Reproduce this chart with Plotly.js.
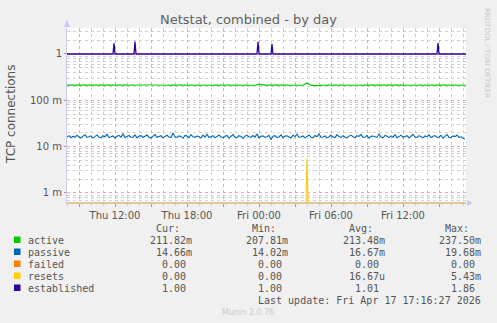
<!DOCTYPE html>
<html><head><meta charset="utf-8">
<script src="https://cdn.plot.ly/plotly-3.0.1.min.js"></script>
<style>html,body{margin:0;padding:0;background:#f0f0f0;}#chart{width:497px;height:323px;}</style>
</head><body><div id="chart"></div>
<script>
// ---- data (values in milli-units unless noted) ----
const startTime = '2026-04-16 08:00';
const activeSampleMinutes = 20;
const passiveSampleMinutes = 10;
const activeMilli = [212.4,213.1,211.8,214.0,212.7,213.5,211.2,212.9,214.3,213.0,212.1,213.8,212.5,211.6,213.9,214.6,212.3,213.2,211.9,212.8,213.6,214.1,212.0,213.4,212.6,211.4,213.7,212.9,214.2,213.1,212.4,213.8,211.7,212.5,214.0,213.3,212.2,213.6,212.8,211.9,213.5,214.4,212.6,213.0,211.8,212.7,213.9,212.3,220.4,213.2,212.5,213.7,211.6,212.9,214.1,213.3,212.0,213.5,212.7,211.3,237.5,212.8,207.81,213.4,212.2,213.9,212.6,211.8,213.1,214.3,212.4,213.6,212.9,211.5,213.2,214.0,212.7,213.3,211.9,212.6,213.8,212.1,213.5,214.2,212.8,211.7,213.0,212.4,213.9,212.3,213.6,211.8,212.9,214.1,213.2,212.5,213.7,211.9,212.8,213.4,211.82];
const passiveMilli = [
16.1,17.3,15.6,16.8,15.9,17.7,16.2,15.4,16.9,18.2,15.8,16.5,17.1,15.3,16.7,17.9,16.0,15.5,17.2,16.4,
18.6,15.7,16.3,17.0,15.2,16.8,17.5,16.1,19.1,15.6,16.6,17.4,15.9,16.2,18.0,15.4,16.9,17.3,15.8,16.5,
17.8,16.0,15.3,16.7,18.4,15.9,16.3,17.2,15.5,16.8,17.6,16.2,15.7,19.68,16.4,15.8,17.1,16.6,15.2,17.4,
16.9,15.6,18.1,16.3,15.9,17.0,16.5,15.4,17.7,16.1,18.5,15.8,16.6,17.3,15.5,16.9,17.9,16.2,15.6,16.8,
17.5,15.3,16.4,18.3,16.0,15.7,17.2,16.6,15.1,16.9,17.8,16.3,15.8,17.4,16.1,18.8,15.5,16.7,17.1,15.9,
16.4,17.6,14.02,16.8,17.3,15.7,16.2,18.0,15.6,16.9,17.2,16.1,15.4,17.7,16.5,18.6,15.8,16.3,17.0,15.5,
16.7,17.9,16.0,15.6,17.4,16.4,19.0,15.9,16.2,17.1,15.3,16.8,17.6,16.1,15.7,18.2,16.5,15.8,17.3,16.0,
15.4,16.9,17.8,16.3,15.6,17.2,16.6,18.4,15.9,16.1,17.5,15.2,16.7,17.0,16.4,15.8,18.7,16.2,15.5,17.4,
16.8,15.7,17.1,16.0,18.1,15.6,16.5,17.7,15.9,16.3,17.2,15.4,16.9,18.5,16.1,15.8,17.3,16.6,15.5,17.0,
16.4,18.0,15.7,16.8,17.4,15.9,16.2,17.6,15.3,16.7,18.3,16.0,15.6,17.1,16.5,17.8,15.8,16.3,15.1,14.66];
const failedTimes = ['2026-04-16 08:00','2026-04-17 17:20'];
const failedValues = [0,0];
const resetsTimes = ['2026-04-16 08:00','2026-04-17 03:55','2026-04-17 04:00','2026-04-17 04:05','2026-04-17 17:20'];
const resetsMilli = [0,0,5.43,0,0];
const estTimes = ['2026-04-16 08:00',
  '2026-04-16 11:50','2026-04-16 11:55','2026-04-16 12:00',
  '2026-04-16 13:35','2026-04-16 13:40','2026-04-16 13:45',
  '2026-04-16 23:50','2026-04-16 23:55','2026-04-17 00:00',
  '2026-04-17 01:00','2026-04-17 01:05','2026-04-17 01:10',
  '2026-04-17 14:50','2026-04-17 14:55','2026-04-17 15:00',
  '2026-04-17 17:20'];
const estValues = [1, 1,1.69,1, 1,1.86,1, 1,1.84,1, 1,1.64,1, 1,1.72,1, 1];

const seriesNames = ['active','passive','failed','resets','established'];
const seriesColors = ['#00CC00','#0066B3','#FF8000','#FFCC00','#330099'];
const curText = ['211.82m','14.66m','0.00','0.00','1.00'];
const minText = ['207.81m','14.02m','0.00','0.00','1.00'];
const avgText = ['213.48m','16.67m','0.00','16.67u','1.01'];
const maxText = ['237.50m','19.68m','0.00','5.43m','1.86'];
const xTickLabels = ['Thu 12:00','Thu 18:00','Fri 00:00','Fri 06:00','Fri 12:00'];
const yTickVals = [0.001,0.01,0.1,1];
const yTickLabels = ['1 m','10 m','100 m','1'];
const xRange = ['2026-04-16 08:00','2026-04-17 17:15'];
const lastUpdate = 'Last update: Fri Apr 17 17:16:27 2026';

// ---- helpers ----
const MILLI = 1e-3;
const yLogRange = [-3.216, 0.561];
const floorVal = Math.pow(10, yLogRange[0]);
function toStr(ms){ return new Date(ms).toISOString().slice(0,16).replace('T',' '); }
function parseT(s){ return Date.parse(s.replace(' ','T')+':00Z'); }
const t0 = parseT(startTime);
function sampleTimes(n, step){ const a=[]; for(let i=0;i<n;i++) a.push(toStr(t0+i*step*60000)); return a; }
const clamp = v => Math.max(v, floorVal);

const L=67,R=466,T=28,B=203;
const px = x => (x-L)/(R-L);
const py = y => (B-y)/(B-T);

const traces = [
  {x: sampleTimes(activeMilli.length, activeSampleMinutes), y: activeMilli.map(v=>clamp(v*MILLI)), color: seriesColors[0]},
  {x: sampleTimes(passiveMilli.length, passiveSampleMinutes), y: passiveMilli.map(v=>clamp(v*MILLI)), color: seriesColors[1]},
  {x: failedTimes, y: failedValues.map(clamp), color: seriesColors[2]},
  {x: resetsTimes, y: resetsMilli.map(v=>clamp(v*MILLI)), color: seriesColors[3]},
  {x: estTimes, y: estValues.map(clamp), color: seriesColors[4]},
].map((d,i)=>({type:'scatter', mode:'lines', x:d.x, y:d.y, name:seriesNames[i],
  line:{color:d.color, width: i===4?1.3:1.1}, hoverinfo:'skip'}));

// x ticks every 3h, labels every 6h
const dayStart = parseT('2026-04-16 00:00');
const xTickVals=[], xTickText=[];
let li=0;
for(let h=9; h<=39; h+=3){
  xTickVals.push(toStr(dayStart+h*3600000));
  if(h%6===0){ xTickText.push(xTickLabels[li++]); } else xTickText.push('');
}
const yMinorVals=[];
for(let k=-4;k<=0;k++) for(let m=2;m<=9;m++) yMinorVals.push(m*Math.pow(10,k));

const gridRed = '#e8a8a8', gridGrey = '#cfcfcf', txt='#555555';
const mono = 'DejaVu Sans Mono', sans='DejaVu Sans';

const annotations = [];
const shapes = [];
function ann(text,x,y,opts){ annotations.push(Object.assign({text, xref:'paper', yref:'paper', x:px(x), y:py(y),
  showarrow:false, xanchor:'left', yanchor:'middle', font:{family:mono,size:10,color:txt}}, opts||{})); }

// y title
ann('TCP connections', 11, 115, {xanchor:'center', textangle:-90, font:{family:sans,size:12,color:txt}});
// rrdtool credit
ann('RRDTOOL / TOBI OETIKER', 487, 53, {xanchor:'center', textangle:90, font:{family:sans,size:7,color:'#c8c8c8'}});
// legend
const colEnds=[194,290,387,483];
const headers=['Cur:','Min:','Avg:','Max:'];
headers.forEach((h,i)=>ann(h, colEnds[i]-12, 228, {xanchor:'right'}));
const rowY=[240,252,264,276,288];
const cols=[curText,minText,avgText,maxText];
seriesNames.forEach((n,r)=>{
  shapes.push({type:'rect', xref:'paper', yref:'paper', x0:px(14), x1:px(20.5), y0:py(rowY[r]+3), y1:py(rowY[r]-3.5),
    fillcolor:seriesColors[r], line:{width:0}});
  ann(n, 26, rowY[r]);
  cols.forEach((c,i)=>{
    const s=c[r]; const hasUnit=/[a-zA-Z]$/.test(s);
    ann(hasUnit? s : s+'\u00a0', colEnds[i], rowY[r], {xanchor:'right'});
  });
});
ann(lastUpdate, 483, 300, {xanchor:'right'});
ann('Munin 2.0.76', 248, 312, {xanchor:'center', font:{family:sans,size:8,color:'#cccccc'}});

// axis arrows
const arrowCol='#c8c8f4';
const axisLineCol='rgba(170,170,235,0.55)';
shapes.push({type:'path', xref:'paper', yref:'paper', path:`M ${px(64)} ${py(27)} L ${px(70)} ${py(27)} L ${px(67)} ${py(20)} Z`, fillcolor:arrowCol, line:{width:0}});
shapes.push({type:'path', xref:'paper', yref:'paper', path:`M ${px(467)} ${py(200)} L ${px(467)} ${py(206)} L ${px(473)} ${py(203)} Z`, fillcolor:arrowCol, line:{width:0}});

const layout = {
  width:497, height:323,
  margin:{l:L, r:497-R, t:T, b:323-B},
  paper_bgcolor:'#f0f0f0', plot_bgcolor:'#ffffff',
  showlegend:false,
  title:{text:'Netstat, combined - by day', xref:'container', x:0.5, xanchor:'center', yref:'container', y:1-19/323, yanchor:'middle',
    font:{family:sans, size:13, color:'#606060'}},
  xaxis:{type:'date', range:xRange, tickmode:'array', tickvals:xTickVals, ticktext:xTickText,
    ticks:'outside', ticklen:3, tickcolor:'#e08080', showgrid:true, gridcolor:gridRed, griddash:'dot', gridwidth:1,
    showline:true, linecolor:axisLineCol, linewidth:1, layer:'above traces', zeroline:false,
    tickfont:{family:sans,size:10,color:txt},
    minor:{dtick:3600000, tick0:'2026-04-16 00:00', showgrid:true, gridcolor:gridGrey, griddash:'dot', gridwidth:1, ticks:'outside', ticklen:2, tickcolor:'#cccccc'}},
  yaxis:{type:'log', range:yLogRange, tickmode:'array', tickvals:yTickVals, ticktext:yTickLabels,
    ticks:'outside', ticklen:2, tickcolor:'#e08080', showgrid:true, gridcolor:gridRed, griddash:'dot', gridwidth:1,
    showline:true, linecolor:axisLineCol, linewidth:1, layer:'above traces', zeroline:false,
    tickfont:{family:sans,size:10,color:txt},
    minor:{tickmode:'array', tickvals:yMinorVals, showgrid:true, gridcolor:gridGrey, griddash:'dot', gridwidth:1, ticks:''}},
  annotations, shapes
};
Plotly.newPlot('chart', traces, layout, {staticPlot:true, displayModeBar:false});
</script></body></html>
